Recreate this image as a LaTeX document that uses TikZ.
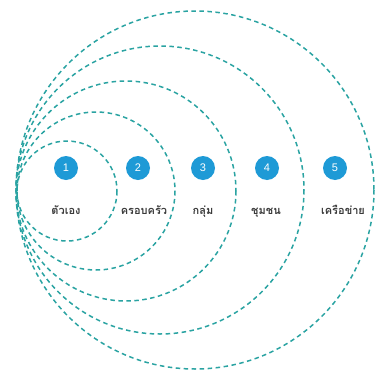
\documentclass[tikz,border=0pt]{standalone}
\usepackage{fontspec}
\setmainfont{Liberation Sans}
\newfontfamily\thaifont[Script=Thai]{Loma}
\definecolor{ringc}{HTML}{2AA3A2}
\definecolor{badgec}{HTML}{1E9AD6}
\definecolor{labelc}{HTML}{3A3A3A}
\begin{document}
\begin{tikzpicture}[x=1pt,y=-1pt,
  ring/.style={draw=ringc,line width=1.5pt,dash pattern=on 4.5pt off 3.5pt},
  badge/.style={circle,fill=badgec,text=white,minimum size=24pt,inner sep=0pt,font=\fontsize{11}{13}\selectfont},
  lbl/.style={text=labelc,font=\thaifont\bfseries\fontsize{11}{13}\selectfont,inner sep=0pt,anchor=base}]
\useasboundingbox (0,0) rectangle (375,375);
\draw[ring] (67,191) circle (50);
\draw[ring] (96,191) circle (79);
\draw[ring] (126,191) circle (110);
\draw[ring] (160,190) circle (144);
\draw[ring] (195,190) circle (179);
\node[badge] (b1) at (66,168) {1};
\node[badge] (b2) at (138,168) {2};
\node[badge] (b3) at (203,168) {3};
\node[badge] (b4) at (267,168) {4};
\node[badge] (b5) at (335,168) {5};
\node[lbl] (l1) at (66,214) {ตัวเอง};
\node[lbl] (l2) at (144,214) {ครอบครัว};
\node[lbl] (l3) at (203,214) {กลุ่ม};
\node[lbl] (l4) at (266,214) {ชุมชน};
\node[lbl] (l5) at (343,214) {เครือข่าย};
\end{tikzpicture}
\end{document}
